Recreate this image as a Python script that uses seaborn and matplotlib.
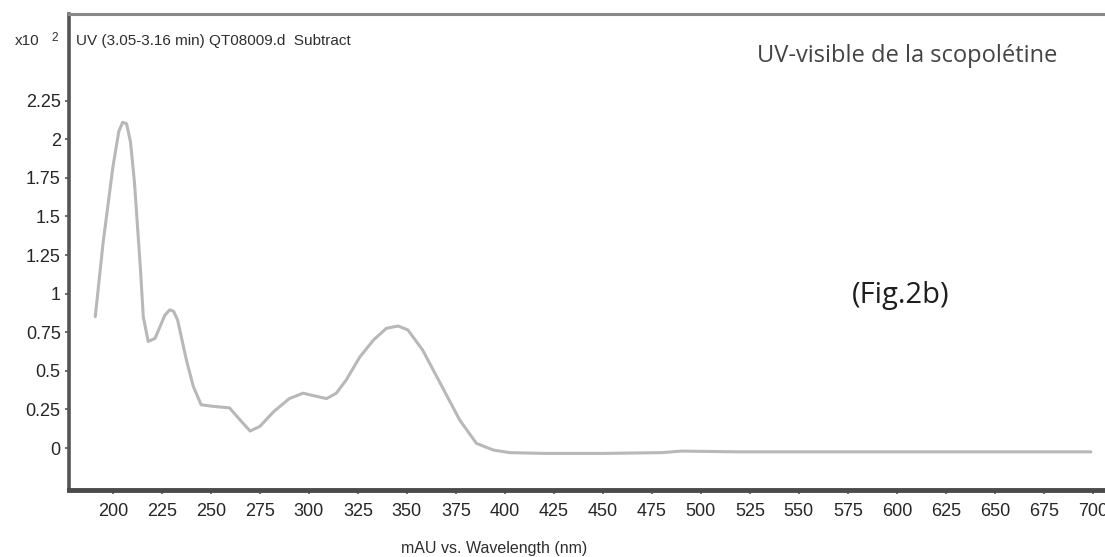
import matplotlib
matplotlib.use("Agg")
import matplotlib.pyplot as plt
from matplotlib import font_manager
import seaborn as sns
import pandas as pd

# UV-visible spectrum of scopoletin (absorbance in units of 10^2 mAU)
wavelength_nm = [191, 195, 200, 203, 205, 207, 209, 211, 214, 215.5, 218, 221.5,
                 226.5, 229, 231, 233, 237.5, 241, 245, 251, 259.5, 265, 270, 275,
                 282, 290, 297, 302, 309, 314, 319, 326, 333, 339.5, 345.5, 350.5,
                 358, 367, 377, 385.5, 394, 402.5, 420, 450, 480, 490, 520, 560,
                 600, 640, 680, 699]
absorbance = [0.85, 1.33, 1.82, 2.05, 2.11, 2.10, 1.98, 1.72, 1.17, 0.85, 0.69, 0.71,
              0.86, 0.895, 0.885, 0.83, 0.57, 0.40, 0.28, 0.27, 0.26, 0.18, 0.11, 0.14,
              0.235, 0.32, 0.355, 0.34, 0.32, 0.355, 0.44, 0.59, 0.70, 0.775, 0.79, 0.765,
              0.635, 0.42, 0.18, 0.03, -0.013, -0.03, -0.035, -0.035, -0.03, -0.02,
              -0.025, -0.025, -0.025, -0.025, -0.025, -0.025]

x_ticks = list(range(200, 701, 25))
y_ticks = [0, 0.25, 0.5, 0.75, 1, 1.25, 1.5, 1.75, 2, 2.25]
y_tick_labels = ["0", "0.25", "0.5", "0.75", "1", "1.25", "1.5", "1.75", "2", "2.25"]

header_text = "UV (3.05-3.16 min) QT08009.d  Subtract"
title_text = "UV-visible de la scopolétine"
fig_tag = "(Fig.2b)"
x_label = "mAU vs. Wavelength (nm)"
scale_text = "x10"
scale_exp = "2"

sns.set_theme(style="ticks")
names = {f.name for f in font_manager.fontManager.ttflist}
narrow = "Liberation Sans Narrow" if "Liberation Sans Narrow" in names else "Liberation Sans"
plt.rcParams["font.family"] = [narrow, "DejaVu Sans"]

df = pd.DataFrame({"wavelength": wavelength_nm, "abs": absorbance})

fig = plt.figure(figsize=(11.05, 5.57), dpi=100)
ax = fig.add_axes([69 / 1105, 67 / 557, 1036 / 1105, 476 / 557])

sns.lineplot(data=df, x="wavelength", y="abs", ax=ax, color="#b8b8b8",
             linewidth=2.2, sort=False)

ax.set_xlim(177.6, 706.2)
ax.set_ylim(-0.272, 2.811)
ax.set_xticks(x_ticks)
ax.set_xticklabels([str(t) for t in x_ticks])
ax.set_yticks(y_ticks)
ax.set_yticklabels(y_tick_labels)
ax.set_xlabel("")
ax.set_ylabel("")

ax.spines["right"].set_visible(False)
ax.spines["left"].set_color("#555555")
ax.spines["left"].set_linewidth(2.6)
ax.spines["bottom"].set_color("#4a4a4a")
ax.spines["bottom"].set_linewidth(3.5)
ax.spines["top"].set_color("#8a8a8a")
ax.spines["top"].set_linewidth(2.2)

ax.tick_params(axis="both", colors="#555555", labelcolor="#262626",
               labelsize=13, length=3, width=1.2, pad=3)
ax.tick_params(axis="x", pad=6)

# Header inside the plot frame
fig.text(76 / 1105, 1 - 45 / 557, header_text, fontsize=11, color="#2e2e2e",
         va="baseline", ha="left")
fig.text(15 / 1105, 1 - 45 / 557, scale_text, fontsize=11, color="#2e2e2e",
         va="baseline", ha="left")
fig.text(51 / 1105, 1 - 41 / 557, scale_exp, fontsize=8.5, color="#2e2e2e",
         va="baseline", ha="left")

fig.text(757 / 1105, 1 - 62 / 557, title_text, fontsize=17, color="#444444",
         family=["Open Sans", "DejaVu Sans"], va="baseline", ha="left")
fig.text(852 / 1105, 1 - 303 / 557, fig_tag, fontsize=21, color="#1e1e1e",
         family=["Open Sans", "DejaVu Sans"], va="baseline", ha="left")
fig.text(494 / 1105, 1 - 553 / 557, x_label, fontsize=11.5, color="#2e2e2e",
         va="baseline", ha="center")

fig.savefig("out.png", dpi=100, facecolor="white")
